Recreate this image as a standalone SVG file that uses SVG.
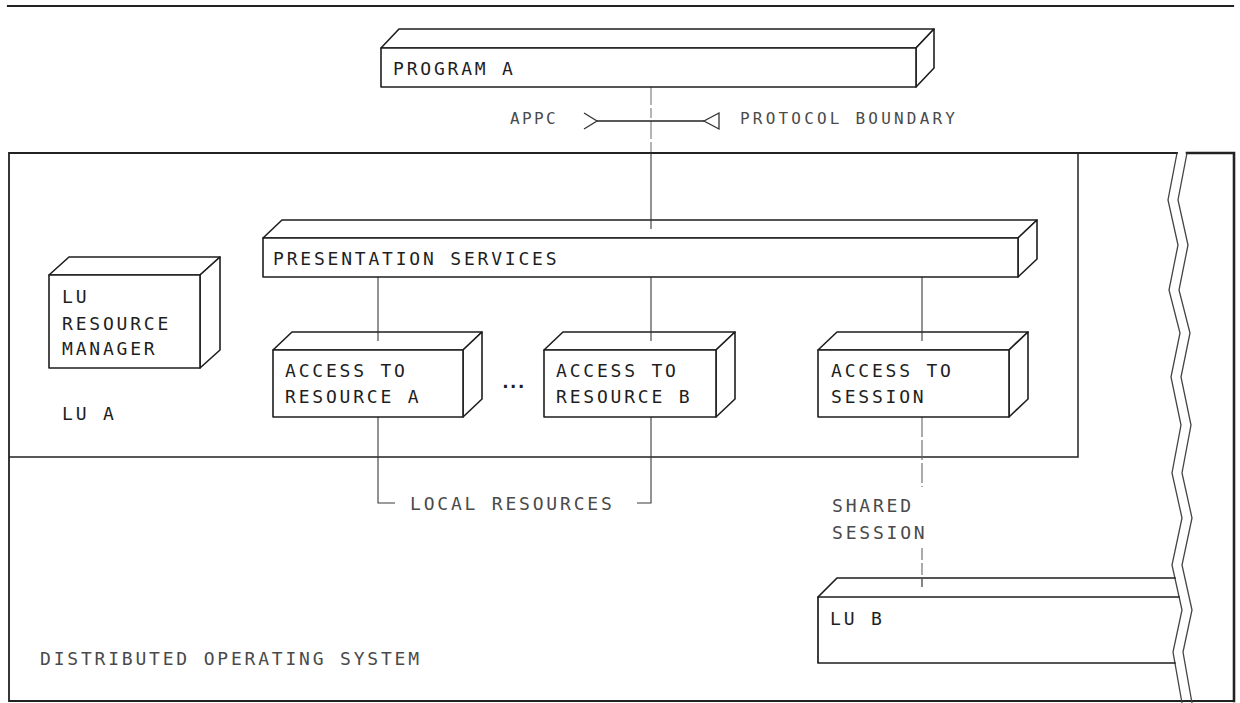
<svg xmlns="http://www.w3.org/2000/svg" width="1240" height="703" viewBox="0 0 1240 703">
<style>
.bg{fill:#ffffff}
.edge{fill:none;stroke:#1e1e1e;stroke-width:1.7;stroke-linejoin:round;stroke-linecap:round}
.face{fill:#ffffff;stroke:#1e1e1e;stroke-width:1.6;stroke-linejoin:round}
.frame{fill:none;stroke:#222;stroke-width:1.8;stroke-linecap:square}
.thin{fill:none;stroke:#3a3a3a;stroke-width:1.1}
.zig{fill:none;stroke:#444;stroke-width:1.3;stroke-linejoin:miter}
.lbl{font-family:"DejaVu Sans Mono","Liberation Mono",monospace;font-size:18px;letter-spacing:2.8px;fill:#1e1e1e}
.lt{font-family:"DejaVu Sans Mono","Liberation Mono",monospace;font-size:18px;letter-spacing:2.8px;fill:#4a4a4a}
.dot{fill:#1e1e1e}
</style>
<rect class="bg" x="0" y="0" width="1240" height="703"/>

<g id="frame">
  <line class="frame" x1="8" y1="6" x2="1233" y2="6" style="stroke-width:2.2"/>
  <path class="frame" d="M1177 153 L9 153 L9 701 L1234 701"/>
  <path class="frame" d="M1187 153 L1234 153 L1234 701" style="stroke-width:2.6"/>
  <path class="thin" d="M9 457 L1078 457 L1078 153" style="stroke:#222;stroke-width:1.5"/>
  <polyline class="zig" points="1177,153 1168,200 1178,245 1169,290 1180,333 1171,377 1181,425 1172,473 1182,518 1172,565 1182,610 1173,652 1182,703"/>
  <polyline class="zig" points="1187,153 1178,200 1188,245 1179,290 1190,333 1181,377 1191,425 1182,473 1192,518 1182,565 1192,610 1183,652 1192,703"/>
  <text class="lt" x="40" y="665">DISTRIBUTED OPERATING SYSTEM</text>
  <text class="lbl" x="62" y="420">LU A</text>
</g>

<g id="connectors">
  <line class="thin" x1="651" y1="87" x2="651" y2="153" style="stroke:#777;stroke-dasharray:18 3 10 3"/>
  <line class="thin" x1="651" y1="153" x2="651" y2="229"/>
  <line class="thin" x1="597" y1="121" x2="704" y2="121" style="stroke:#222;stroke-width:1.4"/>
  <polyline class="thin" points="584,113 597,121 584,129" style="stroke:#333;stroke-width:1.3"/>
  <polygon class="thin" points="719,113 704,121 719,129" style="stroke:#333;stroke-width:1.3"/>
  <text class="lt" x="510" y="124" style="font-size:16px;letter-spacing:2.4px">APPC</text>
  <text class="lt" x="740" y="124" style="font-size:16px;letter-spacing:3.2px">PROTOCOL BOUNDARY</text>
  <line class="thin" x1="378" y1="277" x2="378" y2="341"/>
  <line class="thin" x1="651" y1="277" x2="651" y2="341"/>
  <line class="thin" x1="922" y1="277" x2="922" y2="341"/>
  <path class="thin" d="M378 417 L378 503 L395 503"/>
  <path class="thin" d="M651 417 L651 503 L637 503"/>
  <text class="lt" x="410" y="510">LOCAL RESOURCES</text>
  <line class="thin" x1="922" y1="417" x2="922" y2="487" style="stroke:#666;stroke-dasharray:20 3"/>
  <line class="thin" x1="922" y1="548" x2="922" y2="587" style="stroke:#666;stroke-dasharray:12 3"/>
  <text class="lt" x="832" y="512">SHARED</text>
  <text class="lt" x="832" y="539">SESSION</text>
</g>

<g id="program-a">
  <path class="face" d="M381 48 L399 29 L934 29 L916 48 Z"/>
  <path class="face" d="M916 48 L934 29 L934 68 L916 87 Z"/>
  <rect class="face" x="381" y="48" width="535" height="39"/>
  <text class="lbl" x="393" y="75">PROGRAM A</text>
</g>

<g id="lu-resource-manager">
  <path class="face" d="M49 275 L69 257 L220 257 L200 275 Z"/>
  <path class="face" d="M200 275 L220 257 L220 350 L200 368 Z"/>
  <rect class="face" x="49" y="275" width="151" height="93"/>
  <text class="lbl" x="62" y="303">LU</text>
  <text class="lbl" x="62" y="330">RESOURCE</text>
  <text class="lbl" x="62" y="355">MANAGER</text>
</g>

<g id="presentation-services">
  <path class="face" d="M263 238 L282 220 L1037 220 L1018 238 Z"/>
  <path class="face" d="M1018 238 L1037 220 L1037 259 L1018 277 Z"/>
  <rect class="face" x="263" y="238" width="755" height="39"/>
  <text class="lbl" x="273" y="265">PRESENTATION SERVICES</text>
  <line class="thin" x1="651" y1="220" x2="651" y2="229"/>
</g>

<g id="access-resource-a">
  <path class="face" d="M273 350 L292 332 L482 332 L463 350 Z"/>
  <path class="face" d="M463 350 L482 332 L482 399 L463 417 Z"/>
  <rect class="face" x="273" y="350" width="190" height="67"/>
  <line class="thin" x1="378" y1="332" x2="378" y2="341"/>
  <text class="lbl" x="285" y="377">ACCESS TO</text>
  <text class="lbl" x="285" y="403">RESOURCE A</text>
</g>

<g id="ellipsis">
  <text x="500" y="388" style="font-family:'DejaVu Sans Mono',monospace;font-size:18px;font-weight:bold;letter-spacing:-3px;fill:#1e1e1e">...</text>
</g>

<g id="access-resource-b">
  <path class="face" d="M544 350 L563 332 L735 332 L716 350 Z"/>
  <path class="face" d="M716 350 L735 332 L735 399 L716 417 Z"/>
  <rect class="face" x="544" y="350" width="172" height="67"/>
  <line class="thin" x1="651" y1="332" x2="651" y2="341"/>
  <text class="lbl" x="556" y="377">ACCESS TO</text>
  <text class="lbl" x="556" y="403">RESOURCE B</text>
</g>

<g id="access-session">
  <path class="face" d="M818 350 L837 332 L1028 332 L1009 350 Z"/>
  <path class="face" d="M1009 350 L1028 332 L1028 399 L1009 417 Z"/>
  <rect class="face" x="818" y="350" width="191" height="67"/>
  <line class="thin" x1="922" y1="332" x2="922" y2="341"/>
  <text class="lbl" x="831" y="377">ACCESS TO</text>
  <text class="lbl" x="831" y="403">SESSION</text>
</g>

<g id="lu-b">
  <path class="edge" d="M818 597 L837 578 L1175 578"/>
  <path class="edge" d="M1179 597 L818 597 L818 663 L1175 663"/>
  <line class="thin" x1="922" y1="578" x2="922" y2="587" style="stroke:#666"/>
  <text class="lbl" x="830" y="625">LU B</text>
</g>
</svg>
